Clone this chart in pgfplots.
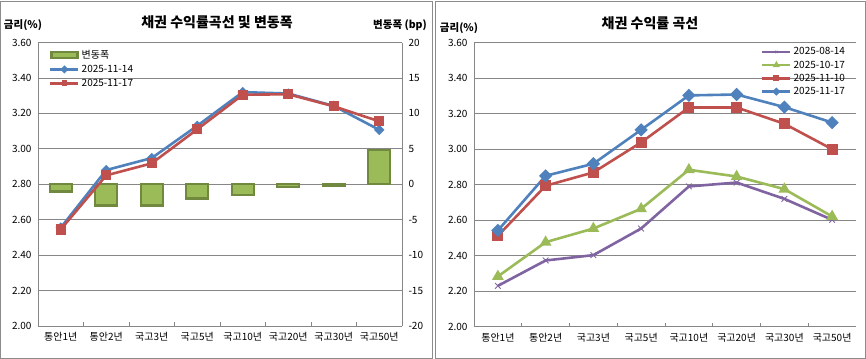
\documentclass[border=0pt]{standalone}
\usepackage{fontspec}
\setmainfont{Noto Sans CJK KR}
\usepackage{pgfplots}
\pgfplotsset{compat=1.18}
\definecolor{cblue}{HTML}{4F81BD}
\definecolor{cred}{HTML}{C0504D}
\definecolor{cgreen}{HTML}{9BBB59}
\definecolor{cpurple}{HTML}{8064A2}
\definecolor{cdkgreen}{HTML}{71893F}
\definecolor{cgrid}{HTML}{868686}
\definecolor{cframe}{HTML}{8C8C8C}
\newcommand{\tfont}{\fontsize{10bp}{12bp}\selectfont}
\pgfplotsset{
  base/.style={
    scale only axis, xmin=-0.5, xmax=7.5,
    xtick={0,...,7},
    xticklabels={통안1년,통안2년,국고3년,국고5년,국고10년,국고20년,국고30년,국고50년},
    major x tick style={draw=none},
    minor xtick={0.5,1.5,...,6.5},
    minor x tick style={cgrid, line width=0.8bp},
    minor tick length=3.5bp,
    tick align=inside,
    major y tick style={draw=none},
    axis line style={cgrid, line width=0.8bp},
    tick label style={font=\tfont, text=black},
    xticklabel style={yshift=-3bp},
    grid style={cgrid, line width=0.8bp},
    clip=false,
  },
  lineleg/.style={legend image code/.code={\draw[mark repeat=2,mark phase=2,##1,mark size=1.6bp] plot coordinates {(0bp,0bp) (14bp,0bp) (28bp,0bp)};}},
}
\begin{document}
\begin{tikzpicture}
\path[use as bounding box] (0bp,0bp) rectangle (866bp,359bp);
\draw[cframe, line width=0.9bp] (0.5bp,1bp) rectangle (432bp,358bp);
\draw[cframe, line width=0.9bp] (435bp,1bp) rectangle (865.5bp,358bp);

% ---------- left chart: secondary axis with bars ----------
\begin{axis}[base, at={(38bp,33bp)}, anchor=south west, width=364bp, height=283.5bp,
  ymin=-20, ymax=20, axis x line=none, axis y line*=right,
  ytick={-20,-15,-10,-5,0,5,10,15,20},
  yticklabels={-20,-15,-10,-5,0,5,10,15,20},
  ymajorgrids, yticklabel style={xshift=3bp}]
\addplot[ybar, bar width=22bp, bar shift=0pt, fill=cgreen, draw=cdkgreen, line width=2.4bp]
  coordinates {(0,-1.0) (1,-3.0) (2,-3.0) (3,-2.0) (4,-1.5) (5,-0.4) (6,-0.2) (7,4.8)};
\end{axis}

% ---------- left chart: primary axis with lines ----------
\begin{axis}[base, at={(38bp,33bp)}, anchor=south west, width=364bp, height=283.5bp,
  ymin=2, ymax=3.6, axis x line*=bottom, axis y line*=left,
  ytick={2.0,2.2,2.4,2.6,2.8,3.0,3.2,3.4,3.6},
  yticklabels={2.00,2.20,2.40,2.60,2.80,3.00,3.20,3.40,3.60},
  yticklabel style={xshift=-3bp},
  legend style={at={(0.03,0.98)}, anchor=north west, draw=none, fill=none,
    font=\tfont, inner sep=0pt, row sep=1bp, cells={anchor=west}},
  lineleg]
\addlegendimage{legend image code/.code={\draw[fill=cgreen,draw=cdkgreen,line width=2.4bp] (1bp,-3bp) rectangle (27bp,3bp);}}
\addlegendentry{변동폭}
\addplot[cblue, line width=2.6bp, mark=square*, mark size=2.4bp, mark options={rotate=45, solid}]
  coordinates {(0,2.555) (1,2.880) (2,2.948) (3,3.130) (4,3.320) (5,3.312) (6,3.242) (7,3.107)};
\addlegendentry{2025-11-14}
\addplot[cred, line width=2.6bp, mark=square*, mark size=3.8bp]
  coordinates {(0,2.545) (1,2.850) (2,2.918) (3,3.110) (4,3.305) (5,3.308) (6,3.240) (7,3.155)};
\addlegendentry{2025-11-17}
\end{axis}

\node[font=\fontsize{14bp}{16bp}\selectfont\bfseries] at (217bp,337bp) {채권 수익률곡선 및 변동폭};
\node[font=\fontsize{10.5bp}{12bp}\selectfont\bfseries] at (23bp,334bp) {금리(\%)};
\node[font=\fontsize{10.5bp}{12bp}\selectfont\bfseries] at (400bp,334bp) {변동폭 (bp)};

% ---------- right chart ----------
\begin{axis}[base, at={(474bp,32.5bp)}, anchor=south west, width=382bp, height=284bp,
  ymin=2, ymax=3.6, axis x line*=bottom, axis y line*=left,
  ytick={2.0,2.2,2.4,2.6,2.8,3.0,3.2,3.4,3.6},
  yticklabels={2.00,2.20,2.40,2.60,2.80,3.00,3.20,3.40,3.60},
  yticklabel style={xshift=-3bp},
  ymajorgrids,
  legend style={at={(0.751,0.99)}, anchor=north west, draw=none, fill=none,
    font=\tfont, inner sep=0pt, row sep=0.5bp, cells={anchor=west}},
  lineleg]
\addplot[cpurple, line width=2.6bp, mark=x, mark size=4bp, mark options={line width=0.9bp}]
  coordinates {(0,2.229) (1,2.372) (2,2.402) (3,2.552) (4,2.789) (5,2.811) (6,2.719) (7,2.601)};
\addlegendentry{2025-08-14}
\addplot[cgreen, line width=2.6bp, mark=triangle*, mark size=4.2bp]
  coordinates {(0,2.282) (1,2.475) (2,2.552) (3,2.663) (4,2.883) (5,2.845) (6,2.774) (7,2.620)};
\addlegendentry{2025-10-17}
\addplot[cred, line width=2.6bp, mark=square*, mark size=4.2bp]
  coordinates {(0,2.511) (1,2.793) (2,2.868) (3,3.037) (4,3.234) (5,3.234) (6,3.142) (7,2.999)};
\addlegendentry{2025-11-10}
\addplot[cblue, line width=2.6bp, mark=square*, mark size=3.4bp, mark options={rotate=45}]
  coordinates {(0,2.541) (1,2.849) (2,2.917) (3,3.108) (4,3.302) (5,3.307) (6,3.236) (7,3.149)};
\addlegendentry{2025-11-17}
\end{axis}

\node[font=\fontsize{14bp}{16bp}\selectfont\bfseries] at (650bp,336bp) {채권 수익률 곡선};
\node[font=\fontsize{10.5bp}{12bp}\selectfont\bfseries] at (459bp,331bp) {금리(\%)};
\end{tikzpicture}
\end{document}
